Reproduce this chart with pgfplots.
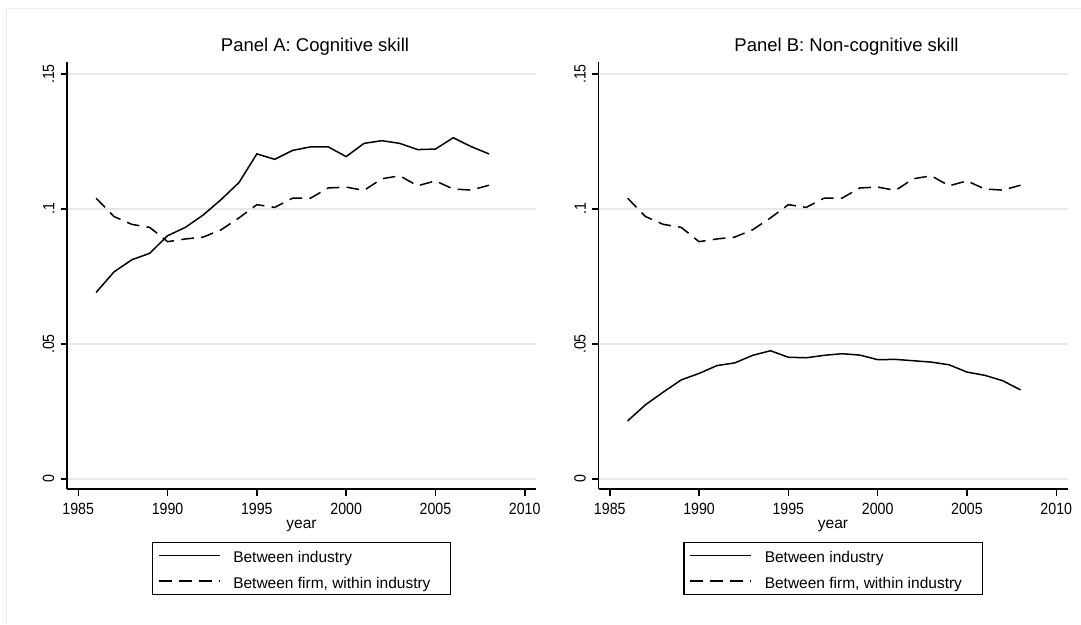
\documentclass[border=0pt]{standalone}
\usepackage{fontspec}
\setmainfont{Liberation Sans}
\newfontfamily\tickfont[FakeStretch=0.87]{Liberation Sans}
\usepackage{pgfplots}
\pgfplotsset{compat=1.18}
\definecolor{gridc}{RGB}{232,232,232}
\definecolor{framec}{RGB}{234,237,240}
\pgfplotsset{
  stataaxis/.style={
    scale only axis, width=469pt, height=427pt,
    xmin=1984.37, xmax=2010.63, ymin=-0.0037, ymax=0.15444,
    axis lines=left, axis line style={-, line width=1.5pt, black},
    xtick={1985,1990,1995,2000,2005,2010},
    xticklabels={1985,1990,1995,2000,2005,2010},
    ytick={0,0.05,0.1,0.15}, yticklabels={0,.05,.1,.15},
    tick align=outside, major tick length=6.5pt,
    tick style={line width=1.5pt, black},
    ymajorgrids, major grid style={gridc, line width=1.4pt},
    ticklabel style={font=\fontsize{16.3}{18}\tickfont, inner sep=0pt},
    xticklabel shift=7pt,
    yticklabel shift=6pt,
    yticklabel style={rotate=90, anchor=south},
    xlabel={year},
    xlabel style={at={(axis description cs:0.5,0)}, anchor=base, yshift=-39.3pt, inner sep=0pt, font=\fontsize{15.5}{18}\selectfont},
    title style={at={(axis description cs:0.5,1)}, anchor=base, yshift=4pt, xshift=13.5pt, inner sep=0pt, font=\fontsize{18.5}{22}\selectfont},
    legend style={at={(0.5,-0.1241)}, anchor=north, draw=black, line width=1.1pt,
      inner xsep=5.6pt, inner ysep=1pt, row sep=1.6pt,
      font=\fontsize{15.5}{18}\selectfont,
      /tikz/every odd column/.append style={column sep=12.7pt},
      nodes={inner sep=0pt, text height=19pt, text depth=5pt}},
    legend cell align=left,
    legend image code/.code={\draw[##1] (0pt,0pt) -- (61pt,0pt);},
  },
  solidline/.style={black, line width=1.5pt, solid},
  dashline/.style={black, line width=1.5pt, dash pattern=on 12.7pt off 7.3pt},
}
\begin{document}
\begin{tikzpicture}[x=1pt,y=1pt]
\useasboundingbox (0,0) rectangle (1081,624);
\draw[framec, line width=1pt] (6,0) -- (6,615) -- (1081,615);
\begin{axis}[stataaxis, at={(67pt,135pt)}, anchor=south west, title={Panel A: Cognitive skill}]
\addplot[solidline] coordinates {
(1986,0.0691) (1987,0.0767) (1988,0.0812) (1989,0.0836) (1990,0.0901)
(1991,0.0932) (1992,0.0978) (1993,0.1035) (1994,0.1098) (1995,0.1204)
(1996,0.1184) (1997,0.1217) (1998,0.1230) (1999,0.1230) (2000,0.1194)
(2001,0.1243) (2002,0.1253) (2003,0.1243) (2004,0.1220) (2005,0.1222)
(2006,0.1264) (2007,0.1231) (2008,0.1204)};
\addlegendentry{\makebox[211.7pt][l]{Between industry}}
\addplot[dashline] coordinates {
(1986,0.1040) (1987,0.0972) (1988,0.0943) (1989,0.0932) (1990,0.0879)
(1991,0.0889) (1992,0.0896) (1993,0.0923) (1994,0.0967) (1995,0.1016)
(1996,0.1006) (1997,0.1040) (1998,0.1040) (1999,0.1078) (2000,0.1081)
(2001,0.1069) (2002,0.1112) (2003,0.1123) (2004,0.1086) (2005,0.1104)
(2006,0.1074) (2007,0.1070) (2008,0.1088)};
\addlegendentry{\makebox[211.7pt][l]{Between firm, within industry}}
\end{axis}
\begin{axis}[stataaxis, at={(598.5pt,135pt)}, anchor=south west, title={Panel B: Non-cognitive skill}]
\addplot[solidline] coordinates {
(1986,0.0215) (1987,0.0275) (1988,0.0322) (1989,0.0367) (1990,0.0391)
(1991,0.0420) (1992,0.0430) (1993,0.0458) (1994,0.0475) (1995,0.0451)
(1996,0.0449) (1997,0.0458) (1998,0.0464) (1999,0.0459) (2000,0.0442)
(2001,0.0443) (2002,0.0438) (2003,0.0433) (2004,0.0423) (2005,0.0396)
(2006,0.0384) (2007,0.0364) (2008,0.0330)};
\addlegendentry{\makebox[211.7pt][l]{Between industry}}
\addplot[dashline] coordinates {
(1986,0.1040) (1987,0.0972) (1988,0.0943) (1989,0.0932) (1990,0.0879)
(1991,0.0889) (1992,0.0896) (1993,0.0923) (1994,0.0967) (1995,0.1016)
(1996,0.1006) (1997,0.1040) (1998,0.1040) (1999,0.1078) (2000,0.1081)
(2001,0.1069) (2002,0.1112) (2003,0.1123) (2004,0.1086) (2005,0.1104)
(2006,0.1074) (2007,0.1070) (2008,0.1088)};
\addlegendentry{\makebox[211.7pt][l]{Between firm, within industry}}
\end{axis}
\end{tikzpicture}
\end{document}
